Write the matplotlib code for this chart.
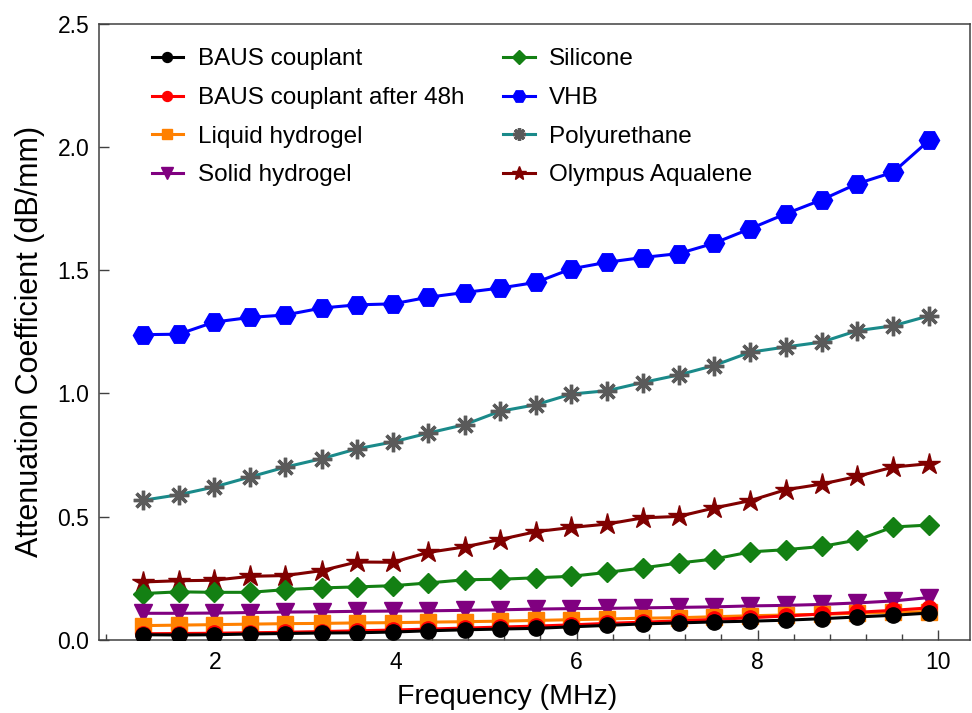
import matplotlib
matplotlib.use("Agg")
import matplotlib.pyplot as plt
from matplotlib.ticker import MultipleLocator, FormatStrFormatter

plt.rcParams['font.family'] = ['Liberation Sans', 'DejaVu Sans']

# Frequency (MHz)
freq = [1.20, 1.60, 1.99, 2.39, 2.78, 3.18, 3.57, 3.97, 4.36, 4.76, 5.15, 5.55,
        5.94, 6.34, 6.73, 7.13, 7.52, 7.92, 8.31, 8.71, 9.10, 9.50, 9.90]

# Attenuation coefficient (dB/mm)
baus = [0.021, 0.020, 0.021, 0.024, 0.026, 0.028, 0.029, 0.032, 0.037, 0.041, 0.044, 0.047,
        0.053, 0.059, 0.065, 0.069, 0.073, 0.076, 0.080, 0.086, 0.093, 0.100, 0.109]
baus_48h = [0.025, 0.026, 0.027, 0.029, 0.031, 0.034, 0.037, 0.040, 0.044, 0.048, 0.052, 0.056,
            0.061, 0.067, 0.072, 0.077, 0.083, 0.090, 0.097, 0.105, 0.112, 0.120, 0.130]
liquid_hydrogel = [0.058, 0.060, 0.062, 0.064, 0.066, 0.067, 0.069, 0.070, 0.072, 0.074, 0.076, 0.079,
                   0.082, 0.085, 0.088, 0.090, 0.094, 0.098, 0.101, 0.104, 0.108, 0.112, 0.115]
solid_hydrogel = [0.108, 0.108, 0.109, 0.111, 0.113, 0.114, 0.116, 0.117, 0.118, 0.120, 0.122, 0.125,
                  0.127, 0.128, 0.130, 0.132, 0.134, 0.138, 0.140, 0.144, 0.150, 0.158, 0.172]
silicone = [0.188, 0.195, 0.193, 0.193, 0.204, 0.211, 0.215, 0.220, 0.231, 0.244, 0.246, 0.252,
            0.258, 0.274, 0.292, 0.312, 0.328, 0.357, 0.366, 0.379, 0.405, 0.458, 0.466]
vhb = [1.238, 1.240, 1.289, 1.308, 1.318, 1.346, 1.359, 1.363, 1.390, 1.409, 1.427, 1.450,
       1.505, 1.532, 1.551, 1.567, 1.609, 1.668, 1.728, 1.785, 1.850, 1.897, 2.027]
polyurethane = [0.566, 0.589, 0.620, 0.661, 0.701, 0.735, 0.775, 0.803, 0.839, 0.873, 0.927, 0.954,
                0.997, 1.011, 1.044, 1.075, 1.113, 1.167, 1.188, 1.208, 1.254, 1.274, 1.315]
aqualene = [0.235, 0.240, 0.242, 0.258, 0.261, 0.281, 0.316, 0.315, 0.355, 0.377, 0.407, 0.439,
            0.456, 0.470, 0.495, 0.501, 0.535, 0.565, 0.609, 0.632, 0.663, 0.701, 0.715]

series = [
    ("BAUS couplant", baus, dict(color="black", marker="o", mfc="black", mec="black", ms=11)),
    ("BAUS couplant after 48h", baus_48h, dict(color="#ff0000", marker="o", mfc="#ff0000", mec="#ff0000", ms=11)),
    ("Liquid hydrogel", liquid_hydrogel, dict(color="#ff8000", marker="s", mfc="#ff8000", mec="#ff8000", ms=11.5)),
    ("Solid hydrogel", solid_hydrogel, dict(color="#800080", marker="v", mfc="#800080", mec="#800080", ms=13)),
    ("Silicone", silicone, dict(color="#138013", marker="D", mfc="#138013", mec="#138013", ms=10.5)),
    ("VHB", vhb, dict(color="#0000ff", marker="H", mfc="#0000ff", mec="#0000ff", ms=14.5)),
    ("Polyurethane", polyurethane, dict(color="#1a8a8a", marker=(8, 2, 0), mfc="#5a5a5a", mec="#5a5a5a", ms=14, mew=2.4)),
    ("Olympus Aqualene", aqualene, dict(color="#800000", marker="*", mfc="#800000", mec="#800000", ms=16)),
]

fig = plt.figure(figsize=(9.72, 7.13), dpi=100)
ax = fig.add_axes([0.102, 0.1025, 0.896, 0.8645])

n = len(series)
for i, (label, vals, style) in enumerate(series):
    ax.plot(freq, vals, label=label, lw=2.2, zorder=10 + (n - i), **style)

ax.set_xlim(0.72, 10.35)
ax.set_ylim(0, 2.5)
ax.xaxis.set_major_locator(MultipleLocator(2))
ax.xaxis.set_minor_locator(MultipleLocator(0.4))
ax.yaxis.set_major_locator(MultipleLocator(0.5))
ax.yaxis.set_major_formatter(FormatStrFormatter('%.1f'))

ax.tick_params(axis='both', which='major', direction='in', length=7, width=1,
               labelsize=16.5, colors='#404040', labelcolor='black')
ax.tick_params(axis='x', which='major', pad=8)
ax.tick_params(axis='y', which='major', pad=7)
ax.tick_params(axis='x', which='minor', direction='in', length=4, width=1, colors='#404040')
ax.tick_params(top=False, right=False)
for sp in ax.spines.values():
    sp.set_color('#404040')
    sp.set_linewidth(1.1)

ax.set_xlabel("Frequency (MHz)", fontsize=20.5)
ax.set_ylabel("Attenuation Coefficient (dB/mm)", fontsize=22)
ax.xaxis.set_label_coords(0.468, -0.072)
ax.yaxis.set_label_coords(-0.062, 0.485)

leg = ax.legend(loc='upper left', bbox_to_anchor=(0.035, 0.995), ncol=2, frameon=False,
                fontsize=17.5, markerscale=0.65, handlelength=1.3, handletextpad=0.6,
                columnspacing=1.6, labelspacing=0.68)

fig.savefig("out.png", dpi=100)
